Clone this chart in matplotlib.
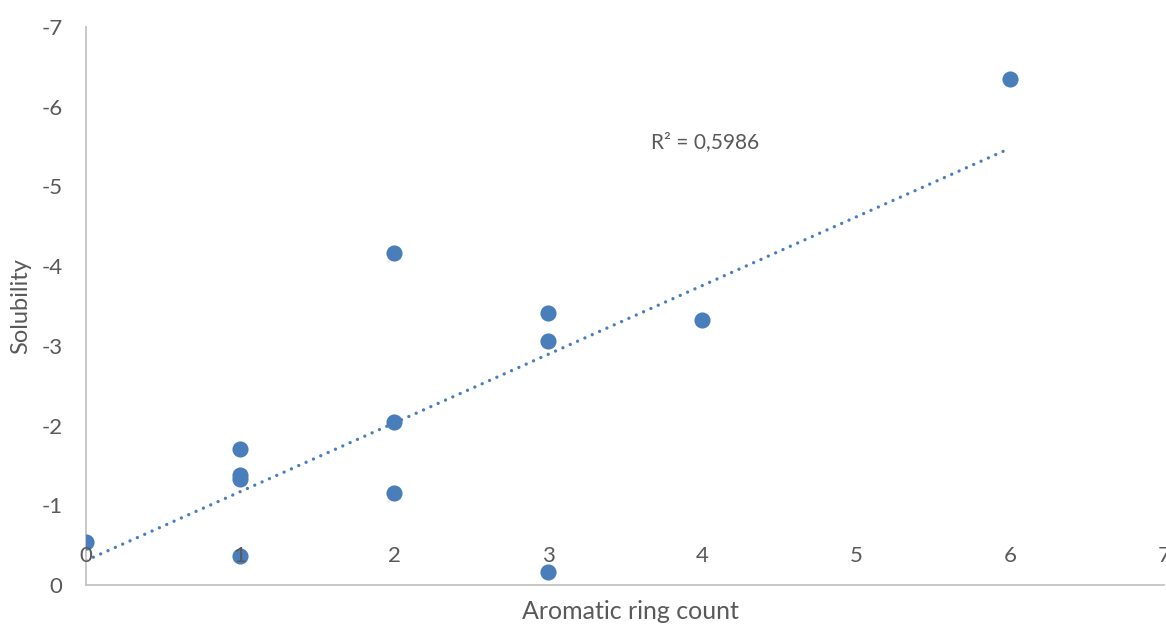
import matplotlib
matplotlib.use("Agg")
import matplotlib.pyplot as plt
import numpy as np

ring_count = [0, 1, 1, 1, 1, 2, 2, 2, 3, 3, 3, 4, 6]
solubility = [-0.54, -0.36, -1.33, -1.38, -1.71, -1.15, -2.05, -4.17,
              -0.16, -3.06, -3.41, -3.32, -6.35]
x_ticks = [0, 1, 2, 3, 4, 5, 6, 7]
y_ticks = [0, -1, -2, -3, -4, -5, -6, -7]
r2_label = "R² = 0,5986"

plt.rcParams['font.family'] = ['Lato', 'DejaVu Sans']
grey = '#595959'
blue = '#4A7EBB'

fig = plt.figure(figsize=(11.66, 6.24), dpi=100)
ax = fig.add_axes([86/1166, 39/624, (1164-86)/1166, (585-27)/624])

ax.scatter(ring_count, solubility, s=135, color=blue, zorder=3, linewidths=0)

xs = np.array(ring_count, dtype=float)
ys = np.array(solubility, dtype=float)
slope, intercept = np.polyfit(xs, ys, 1)
xl = np.array([min(ring_count), max(ring_count)], dtype=float)
ax.plot(xl, slope * xl + intercept, linestyle=(0, (0.01, 2.4)), color=blue,
        linewidth=2.4, dash_capstyle='round', zorder=2)

ax.text(3.67, -5.55, r2_label, fontsize=15, color=grey, va='center', ha='left')

ax.set_xlim(0, 7)
ax.set_ylim(0, -7)
ax.set_xticks(x_ticks)
ax.set_yticks(y_ticks)
ax.set_xticklabels([str(v) for v in x_ticks])
ax.set_yticklabels([str(v) for v in y_ticks])

for s in ['top', 'right']:
    ax.spines[s].set_visible(False)
for s in ['left', 'bottom']:
    ax.spines[s].set_color('#BFBFBF')
    ax.spines[s].set_linewidth(1.2)

ax.tick_params(axis='both', length=0, labelsize=16, labelcolor=grey)
ax.tick_params(axis='y', pad=17)
ax.tick_params(axis='x', pad=-14)
for lbl in ax.get_xticklabels():
    lbl.set_verticalalignment('bottom')
    lbl.set_zorder(5)
ax.xaxis.set_zorder(5)

ax.set_xlabel('Aromatic ring count', fontsize=18, color=grey)
ax.set_ylabel('Solubility', fontsize=17, color=grey)
ax.xaxis.set_label_coords(0.505, -0.027)
ax.yaxis.set_label_coords(-0.051, 0.5)

fig.savefig('out.png', dpi=100)
